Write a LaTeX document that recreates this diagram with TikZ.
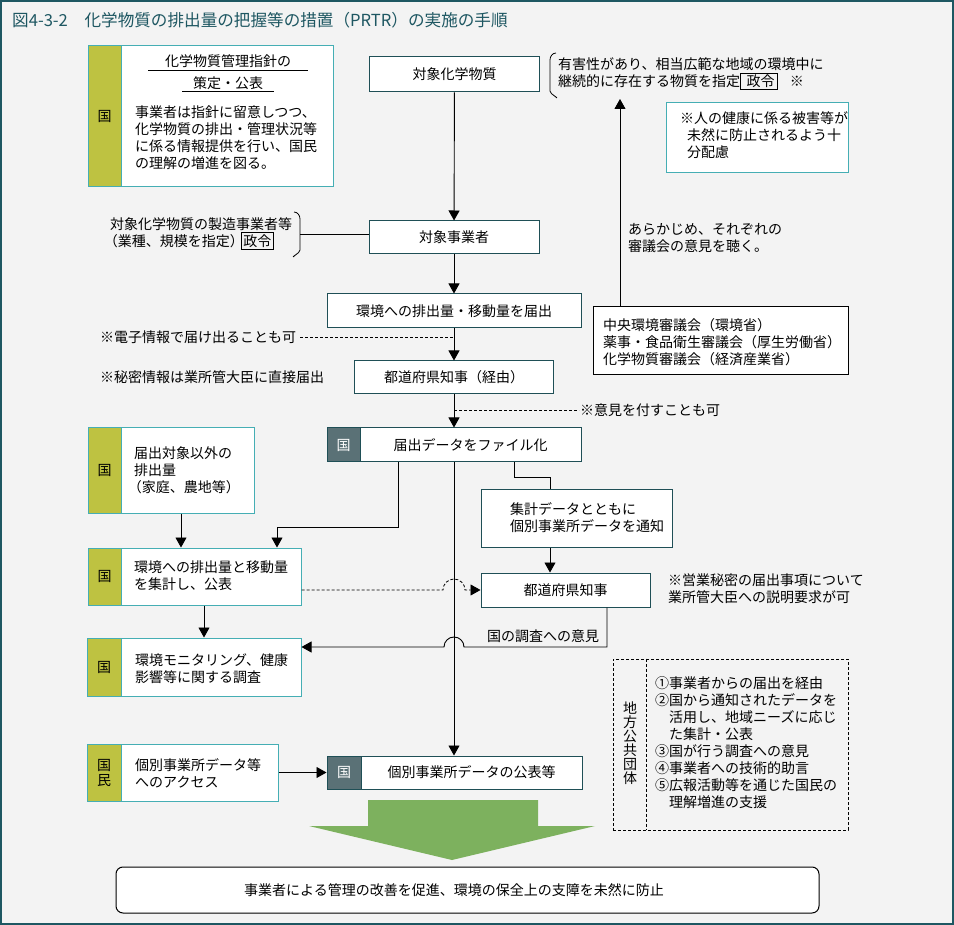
\documentclass[tikz,border=0pt]{standalone}
\usepackage{fontspec}
\usepackage{tikz}
\usetikzlibrary{arrows.meta}
\usetikzlibrary{positioning}
\newfontfamily\jp{Noto Sans CJK JP}
\newcommand{\jpfont}{\jp\fontsize{14}{17}\selectfont}
\setlength{\fboxsep}{1.5pt}
\setlength{\fboxrule}{0.8pt}
\definecolor{bg}{HTML}{F3F3F3}
\definecolor{frameteal}{HTML}{1E5762}
\definecolor{boxline}{HTML}{1F4F56}
\definecolor{kline}{HTML}{45AEB4}
\definecolor{tagolive}{HTML}{BEC241}
\definecolor{tagslate}{HTML}{5A7176}
\definecolor{arrowgreen}{HTML}{7DB15E}
\tikzset{
  > = {Triangle[length=10pt, width=11pt]},
  box/.style = {draw = boxline, fill = white, line width = 1pt, inner sep = 0pt, font = \jpfont},
  kbox/.style = {draw = kline, fill = white, line width = 1pt, inner sep = 0pt},
  otag/.style = {draw = kline, fill = tagolive, line width = 1pt, inner sep = 0pt, anchor = north west, font = \jpfont},
  stag/.style = {draw = boxline, fill = tagslate, text = white, line width = 1pt, inner sep = 0pt, anchor = north west, font = \jpfont},
  txt/.style = {inner sep = 0pt, anchor = west, align = left, font = \jpfont},
  flow/.style = {->, line width = 0.9pt},
  hint/.style = {dash pattern = on 3pt off 2pt, line width = 0.8pt},
  goalbox/.style = {draw = black, fill = white, rounded corners = 7pt, line width = 1pt},
  localbox/.style = {draw = black, dash pattern = on 3pt off 2pt, line width = 0.9pt},
}

\begin{document}
\begin{tikzpicture}[x = 1pt, y = -1pt]
  \fill[bg] (0,0) rectangle (954,925);
  \useasboundingbox (0,0) rectangle (954,925);
  \draw[frameteal, line width = 2pt] (1,1) rectangle (953,924);
  \node[txt, text = frameteal, font = \jp\fontsize{16.6}{18}\selectfont] (title) at (12,20)
    {図4-3-2　化学物質の排出量の把握等の措置（PRTR）の実施の手順};

  % guideline box
  \node[kbox, minimum width = 245, minimum height = 141] (guide) at (210.5,116.5) {};
  \node[otag, minimum width = 33, minimum height = 141] (guidetag) at (guide.north west) {国};
  \node[txt, anchor = center] (guidehead) at (228,61) {化学物質管理指針の};
  \node[txt, anchor = center] (guidesub) at (228,83) {策定・公表};
  \draw[line width = 1pt] (148,71) -- (308,71);
  \draw[line width = 1pt] (182,92) -- (274,92);
  \node[txt] (guidetext) at (135,138) {事業者は指針に留意しつつ、\\化学物質の排出・管理状況等\\に係る情報提供を行い、国民\\の理解の増進を図る。};

  % main flow
  \node[box, minimum width = 170, minimum height = 35] (substance) at (454.5,74.5) {対象化学物質};
  \node[box, minimum width = 170, minimum height = 33] (operator) at (454,237.5) {対象事業者};
  \node[box, minimum width = 254, minimum height = 34] (report) at (454,311) {環境への排出量・移動量を届出};
  \node[box, minimum width = 199, minimum height = 33] (pref1) at (454,377.5) {都道府県知事（経由）};
  \node[box, minimum width = 254, minimum height = 34] (file) at (454,445) {};
  \node[stag, minimum width = 33, minimum height = 34] (filetag) at (file.north west) {国};
  \node[txt, anchor = center] (filetext) at (470.5,445) {届出データをファイル化};

  % side notes
  \node[txt] (hazard) at (558,74) {有害性があり、相当広範な地域の環境中に\\継続的に存在する物質を指定\fbox{\hspace{4pt}政令\hspace{1pt}}\hspace{12pt}※};
  \draw[line width = 0.8pt] (556,53) to[out = 180, in = 90] (550,60) -- (550,91) to[out = -90, in = 0] (556,98);
  \coordinate (spec) at (620,99);
  \node[kbox, minimum width = 182, minimum height = 70] (health) at (757,138) {};
  \node[txt] (healthtext) at (680,135) {※人の健康に係る被害等が\\\hspace*{0.5em}未然に防止されるよう十\\\hspace*{0.5em}分配慮};
  \node[txt] (hearing) at (628,238.5) {あらかじめ、それぞれの\\審議会の意見を聴く。};
  \node[draw = black, fill = white, line width = 1pt, minimum width = 255, minimum height = 68] (council) at (720.5,341) {};
  \node[txt] (counciltext) at (603,342) {中央環境審議会（環境省）\\薬事・食品衛生審議会（厚生労働省）\\化学物質審議会（経済産業省）};
  \node[txt] (maker) at (110,233.5) {対象化学物質の製造事業者等\\\hspace*{-0.45em}（業種、規模を指定）\hspace{-0.2em}\fbox{政令}};
  \draw[line width = 0.8pt] (294,212) to[out = 0, in = 90] (300,219) -- (300,250) to[out = -90, in = 180] (294,257);
  \coordinate (bracketR) at (300,234);
  \node[txt] (einfo) at (100,337) {※電子情報で届け出ることも可};
  \node[txt] (secret) at (100,377) {※秘密情報は業所管大臣に直接届出};
  \node[txt] (opinion) at (580,410) {※意見を付すことも可};

  % aggregation
  \node[kbox, minimum width = 166, minimum height = 85] (other) at (171,470.5) {};
  \node[otag, minimum width = 33, minimum height = 85] (othertag) at (other.north west) {国};
  \node[txt] (othertext) at (134,470.5) {届出対象以外の\\排出量\\\hspace*{-0.45em}（家庭、農地等）};
  \node[kbox, minimum width = 213, minimum height = 57] (sum) at (194.5,576.5) {};
  \node[otag, minimum width = 33, minimum height = 57] (sumtag) at (sum.north west) {国};
  \node[txt] (sumtext) at (134,576) {環境への排出量と移動量\\を集計し、公表};
  \node[box, minimum width = 191, minimum height = 58] (notify) at (576.5,518) {};
  \node[txt] (notifytext) at (510,517.5) {集計データとともに\\個別事業所データを通知};
  \node[box, minimum width = 169, minimum height = 34] (pref2) at (565.5,590) {都道府県知事};
  \node[txt] (tradesecret) at (668,589) {※営業秘密の届出事項について\\業所管大臣への説明要求が可};
  \node[kbox, minimum width = 214, minimum height = 58] (monitor) at (194,667) {};
  \node[otag, minimum width = 34, minimum height = 58] (monitortag) at (monitor.north west) {国};
  \node[txt] (monitortext) at (135,668.5) {環境モニタリング、健康\\影響等に関する調査};
  \node[txt] (asklabel) at (487,636) {国の調査への意見};
  \coordinate (hopA) at (443,590);
  \coordinate (hopB) at (464,647);

  % disclosure
  \node[kbox, minimum width = 191, minimum height = 57] (access) at (182.5,772.5) {};
  \node[otag, minimum width = 34, minimum height = 57, align = center, font = \jp\fontsize{14}{15}\selectfont] (accesstag) at (access.north west) {国\\民};
  \node[txt] (accesstext) at (135,773.5) {個別事業所データ等\\へのアクセス};
  \node[box, minimum width = 255, minimum height = 33] (publish) at (454.5,772.5) {};
  \node[stag, minimum width = 34, minimum height = 33] (publishtag) at (publish.north west) {国};
  \node[txt, anchor = center] (publishtext) at (471.5,772.5) {個別事業所データの公表等};

  % local governments
  \node[localbox, minimum width = 235, minimum height = 171] (local) at (730.5,744.5) {};
  \draw[hint] ([xshift = 34pt]local.north west) -- ([xshift = 34pt]local.south west);
  \node[align = center, inner sep = 0pt, font = \jp\fontsize{14}{14}\selectfont] (localname) at (630,743) {地\\方\\公\\共\\団\\体};
  \node[txt] (localtext) at (655,742.5) {①事業者からの届出を経由\\②国から通知されたデータを\\\hspace*{1em}活用し、地域ニーズに応じ\\\hspace*{1em}た集計・公表\\③国が行う調査への意見\\④事業者への技術的助言\\⑤広報活動等を通じた国民の\\\hspace*{1em}理解増進の支援};

  % result
  \fill[arrowgreen] (368,800) -- (538,800) -- (538,826) -- (595,826) -- (452,860) -- (309,826) -- (368,826) -- cycle;
  \node[goalbox, minimum width = 703, minimum height = 46] (goal) at (467.5,890) {};
  \node[inner sep = 0pt, font = \jpfont] (goaltext) at (454,890) {事業者による管理の改善を促進、環境の保全上の支障を未然に防止};

  % paths
  \draw[flow] (substance) -- (operator);
  \draw[flow] (operator) -- (report);
  \draw[flow] (report) -- (pref1);
  \draw[flow] (pref1) -- (file);
  \draw[flow] (file.south) -- (file.south |- publish.north);
  \draw[line width = 0.9pt] (bracketR) -- (bracketR -| operator.west);
  \draw[flow] (council.north -| spec) -- (spec);
  \draw[hint] ([xshift = 4pt]einfo.east) -- (einfo.east -| report.south);
  \draw[hint] (opinion.west -| pref1.south) -- ([xshift = -1pt]opinion.west);
  \draw[flow] ([xshift = -56pt]file.south) -- ++(0,65) -| ([xshift = 82.5pt]sum.north);
  \draw[flow] ([xshift = 10pt]other.south) -- ([xshift = 10pt]other.south |- sum.north);
  \draw[line width = 0.9pt] ([xshift = 60pt]file.south) -- ++(0,15) -| ([xshift = -26.5pt]notify.north);
  \draw[flow] ([xshift = -26.5pt]notify.south) -- ([xshift = -26.5pt]notify.south |- pref2.north);
  \draw[flow, hint] (sum.east |- pref2.west) -- (hopA) arc[start angle = 180, end angle = 0, radius = 11pt] -- (pref2.west);
  \draw[flow] ([xshift = 41.5pt]pref2.south) |- (hopB) arc[start angle = 0, end angle = 180, radius = 10pt] -- (monitor.east |- hopB);
  \draw[flow] ([xshift = 9.5pt]sum.south) -- ([xshift = 9.5pt]sum.south |- monitor.north);
  \draw[flow] (access.east) -- (publish.west);
\end{tikzpicture}
\end{document}
